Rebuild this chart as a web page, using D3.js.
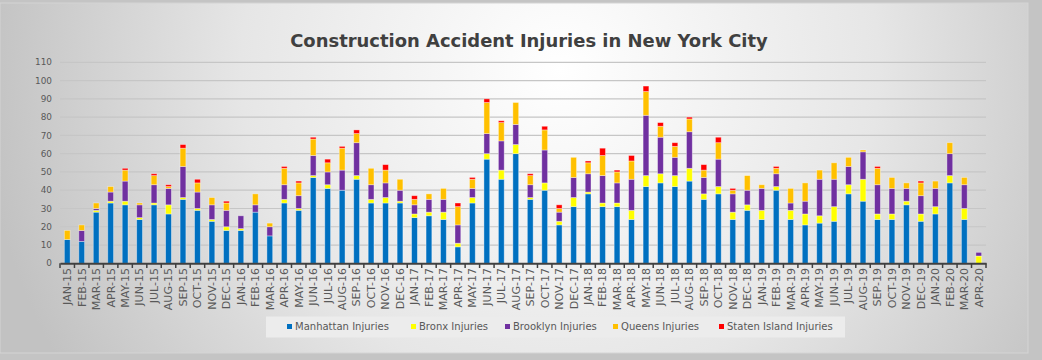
<!DOCTYPE html>
<html><head><meta charset="utf-8">
<script src="https://cdn.jsdelivr.net/npm/d3@7"></script>
<style>html,body{margin:0;padding:0;background:#c4c4c4;}svg{display:block;}</style>
</head><body>
<svg id="chart" width="1042" height="360"></svg>
<script>
const months = ["JAN-15","FEB-15","MAR-15","APR-15","MAY-15","JUN-15","JUL-15","AUG-15","SEP-15","OCT-15","NOV-15","DEC-15",
"JAN-16","FEB-16","MAR-16","APR-16","MAY-16","JUN-16","JUL-16","AUG-16","SEP-16","OCT-16","NOV-16","DEC-16",
"JAN-17","FEB-17","MAR-17","APR-17","MAY-17","JUN-17","JUL-17","AUG-17","SEP-17","OCT-17","NOV-17","DEC-17",
"JAN-18","FEB-18","MAR-18","APR-18","MAY-18","JUN-18","JUL-18","AUG-18","SEP-18","OCT-18","NOV-18","DEC-18",
"JAN-19","FEB-19","MAR-19","APR-19","MAY-19","JUN-19","JUL-19","AUG-19","SEP-19","OCT-19","NOV-19","DEC-19",
"JAN-20","FEB-20","MAR-20","APR-20"];
const manhattan = [13,12,28,33,32,24,32,27,35,29,23,18, 18,28,15,33,29,47,41,40,46,33,33,33, 25,26,24,9,33,57,46,60,35,40,21,31, 38,31,31,24,42,44,42,45,35,38,24,29, 24,40,24,21,22,23,38,34,24,24,32,23, 27,44,24,0];
const bronx     = [0,0,1,1,2,1,1,5,1,1,1,2, 1,0,0,2,1,1,2,0,2,2,3,1, 2,2,4,2,3,3,5,5,1,4,2,5, 1,2,2,5,6,5,6,7,3,4,4,3, 5,2,5,6,4,8,5,12,3,3,2,4, 4,4,6,4];
const brooklyn  = [0,6,1,5,11,7,10,9,17,9,8,9, 7,4,5,8,7,11,7,11,18,8,8,6, 5,7,7,10,5,11,16,11,7,18,5,11, 10,15,11,17,33,20,10,20,9,15,10,8, 12,7,4,7,20,15,10,15,16,14,7,10, 10,12,13,2];
const queens    = [5,3,3,3,6,1,5,1,10,5,4,4, 0,6,2,9,7,9,5,12,5,9,7,6, 3,3,6,10,5,17,10,12,5,11,2,11, 6,11,6,10,13,6,6,7,4,9,2,8, 2,3,8,10,5,9,5,1,9,6,3,7, 4,6,4,0];
const staten    = [0,0,0,0,1,0,1,1,2,2,0,1, 0,0,0,1,1,1,2,1,2,0,3,0, 2,0,0,2,1,2,1,0,1,2,2,0, 1,4,1,3,3,2,2,1,3,3,1,0, 0,1,0,0,0,0,0,0,1,0,0,1, 0,0,0,0];
const seriesNames = ["Manhattan Injuries","Bronx Injuries","Brooklyn Injuries","Queens Injuries","Staten Island Injuries"];
const seriesColors = ["#0070C0","#FFFF00","#7030A0","#FFC000","#FF0000"];
const yTicks = [0,10,20,30,40,50,60,70,80,90,100,110];
const titleText = "Construction Accident Injuries in New York City";

const seriesValues = [manhattan, bronx, brooklyn, queens, staten];
const table = months.map((m,i)=>{const o={month:m}; seriesNames.forEach((s,k)=>o[s]=seriesValues[k][i]); return o;});

const svg = d3.select("#chart");
const FONT = "'DejaVu Sans', sans-serif";

// background
const defs = svg.append("defs");
const rg = defs.append("radialGradient").attr("id","bg").attr("gradientUnits","userSpaceOnUse")
  .attr("cx",560).attr("cy",70).attr("r",580);
rg.append("stop").attr("offset","0").attr("stop-color","#ffffff");
rg.append("stop").attr("offset","0.55").attr("stop-color","#e6e6e6");
rg.append("stop").attr("offset","1").attr("stop-color","#c2c2c2");
svg.append("rect").attr("x",0).attr("y",3).attr("width",1028).attr("height",350)
  .attr("fill","url(#bg)").attr("stroke","#d4d4d4").attr("stroke-width",1);

function fit(sel, target){
  const w = sel.node().getComputedTextLength();
  const s = parseFloat(sel.attr("font-size"));
  return s*target/w;
}

const x = d3.scaleBand().domain(months).range([60,986]).paddingInner(0.6).paddingOuter(0.3);
const y = d3.scaleLinear().domain([0,110]).range([263.3,62.3]);

// gridlines
svg.append("g").selectAll("line").data(yTicks.filter(d=>d>0)).join("line")
  .attr("x1",60).attr("x2",986).attr("y1",d=>y(d)).attr("y2",d=>y(d))
  .attr("stroke","#c6c6c6").attr("stroke-width",1.2);

// y labels
const probeY = svg.append("text").attr("font-family",FONT).attr("font-size",12).text("110");
const ySize = fit(probeY,17); probeY.remove();
svg.append("g").selectAll("text").data(yTicks).join("text")
  .attr("x",52).attr("y",d=>y(d)).attr("dy","0.35em").attr("text-anchor","end")
  .attr("font-family",FONT).attr("font-size",ySize).attr("fill","#595959").text(d=>d);

// bars
const stack = d3.stack().keys(seriesNames)(table);
svg.append("g").selectAll("g").data(stack).join("g")
  .attr("fill",(d,i)=>seriesColors[i])
  .selectAll("rect").data(d=>d.filter(p=>p[1]-p[0]>0)).join("rect")
  .attr("x",d=>x(d.data.month)).attr("width",x.bandwidth())
  .attr("y",d=>y(d[1])).attr("height",d=>y(d[0])-y(d[1]))
  .attr("stroke","rgba(255,255,255,0.45)").attr("stroke-width",0.8);

// x axis
const xAxis = d3.axisBottom(x).tickSize(0).tickFormat("");
const gx = svg.append("g").attr("transform","translate(0,263.3)").call(xAxis);
gx.select(".domain").attr("stroke","#404040").attr("stroke-width",2);
const step = x.step();
svg.append("g").selectAll("line").data(d3.range(months.length+1)).join("line")
  .attr("x1",d=>60+d*step).attr("x2",d=>60+d*step).attr("y1",263.3).attr("y2",268)
  .attr("stroke","#404040").attr("stroke-width",1.5);

const probeX = svg.append("text").attr("font-family",FONT).attr("font-size",11).text("JAN-15");
const xSize = fit(probeX,37); probeX.remove();
svg.append("g").selectAll("text").data(months).join("text")
  .attr("transform",d=>`translate(${x(d)+x.bandwidth()/2},268) rotate(-90)`)
  .attr("dy","0.35em").attr("text-anchor","end")
  .attr("font-family",FONT).attr("font-size",xSize).attr("fill","#595959").text(d=>d);

// title
const t = svg.append("text").attr("x",529).attr("y",47).attr("text-anchor","middle")
  .attr("font-family",FONT).attr("font-weight","bold").attr("font-size",20).attr("fill","#404040").text(titleText);
t.attr("font-size",fit(t,478));

// legend
svg.append("rect").attr("x",266).attr("y",316.5).attr("width",579).attr("height",21).attr("fill","#ececec");
const legX = [287,411,505,613,719];
const probeL = svg.append("text").attr("font-family",FONT).attr("font-size",12).text(seriesNames[0]);
const lSize = fit(probeL,94); probeL.remove();
const lg = svg.append("g").selectAll("g").data(seriesNames).join("g")
  .attr("transform",(d,i)=>`translate(${legX[i]},326.5)`);
lg.append("rect").attr("x",0).attr("y",-2.5).attr("width",5).attr("height",5).attr("fill",(d,i)=>seriesColors[i]);
lg.append("text").attr("x",8).attr("dy","0.35em").attr("font-family",FONT).attr("font-size",lSize)
  .attr("fill","#595959").text(d=>d);
</script>
</body></html>
